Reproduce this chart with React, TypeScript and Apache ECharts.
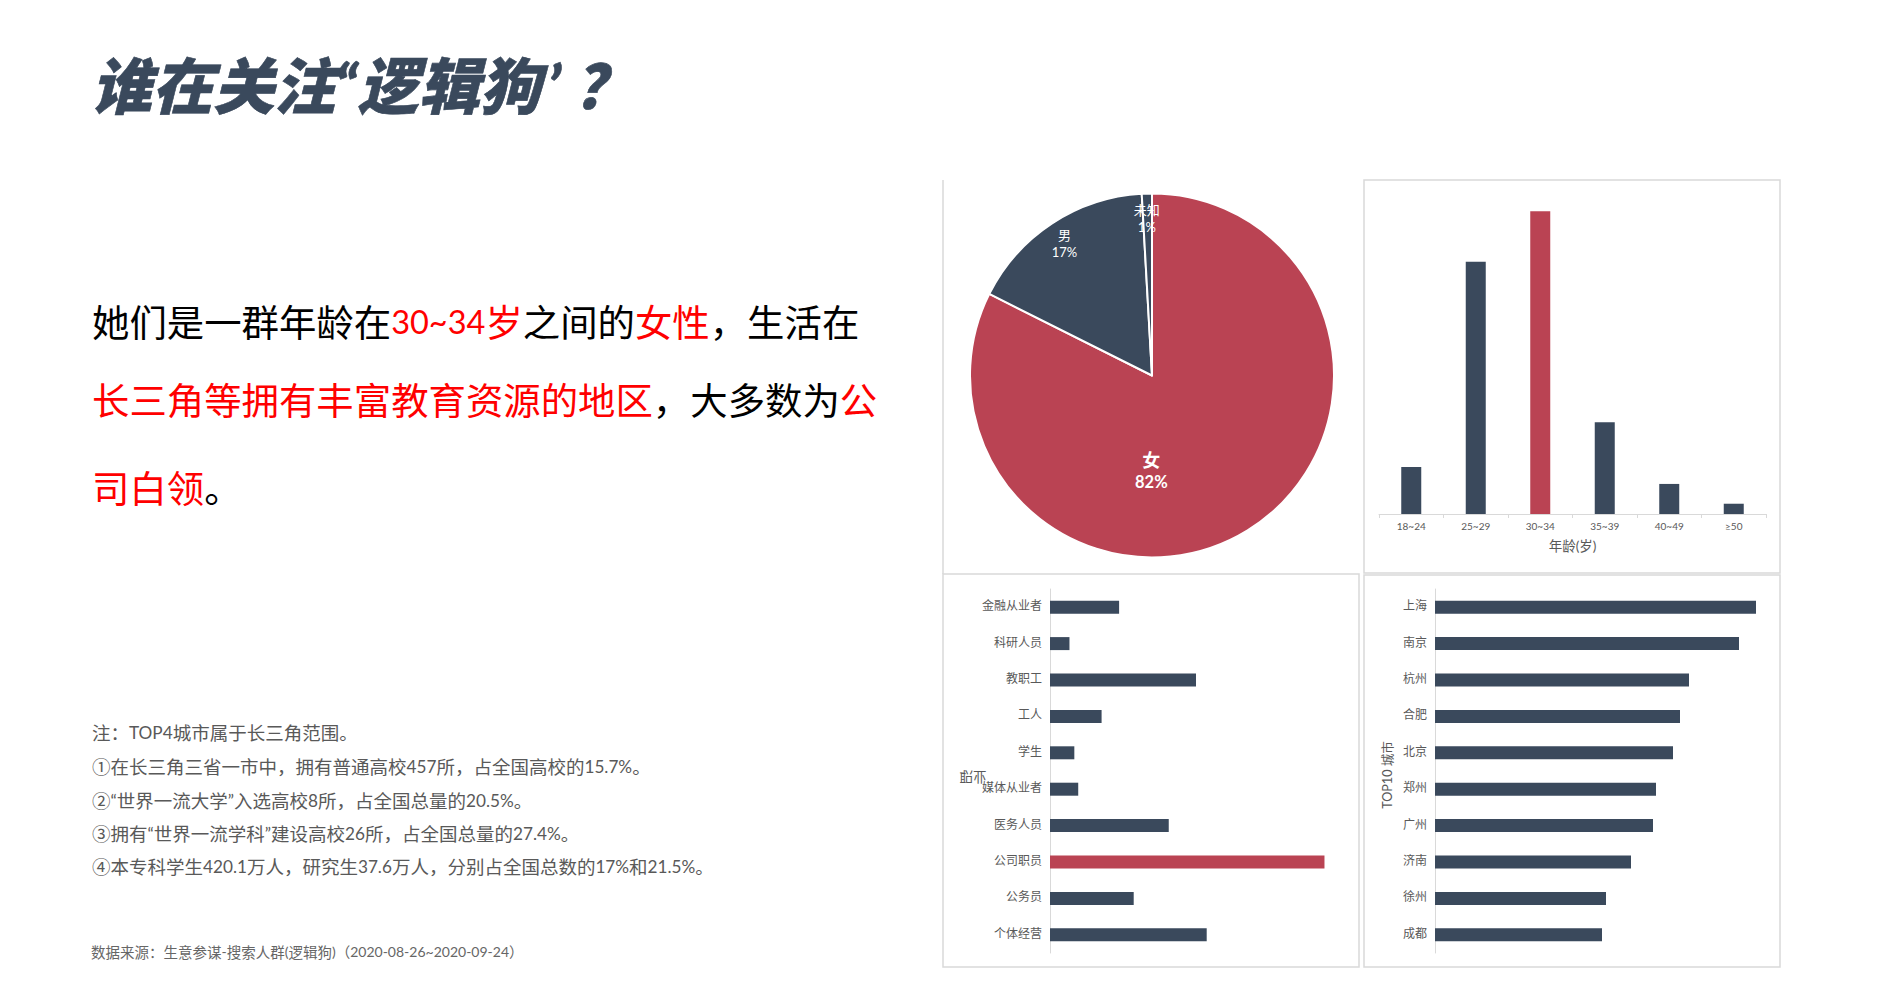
import React, { useEffect, useRef } from "react";
import * as echarts from "echarts";

const FONT = 'Lato, "Noto Sans CJK SC", sans-serif';
const CJK = '"Noto Sans CJK SC", sans-serif';
const NAVY = "#3A495C";
const ROSE = "#BA4353";
const GREY = "#595959";
const LINE = "#D9D9D9";

const genderNames = ["女", "男", "未知"];
const genderValues = [82.4, 16.7, 0.9];
const genderLabels = ["82%", "17%", "1%"];

const ageCategories = ["18~24", "25~29", "30~34", "35~39", "40~49", "≥50"];
const ageValues = [6.4, 34.4, 41.3, 12.5, 4.1, 1.4];

const jobCategories = ["金融从业者", "科研人员", "教职工", "工人", "学生", "媒体从业者", "医务人员", "公司职员", "公务员", "个体经营"];
const jobValues = [7.1, 2.0, 15.0, 5.3, 2.5, 2.9, 12.2, 28.2, 8.6, 16.1];

const cityCategories = ["上海", "南京", "杭州", "合肥", "北京", "郑州", "广州", "济南", "徐州", "成都"];
const cityValues = [321, 304, 254, 245, 238, 221, 218, 196, 171, 167];

const titleText = "谁在关注“逻辑狗\u2009’ ？";
const bodyLines = [
  "{k|她们是一群年龄在}{n|30~34}{r|岁}{k|之间的}{r|女性}{k|，生活在}",
  "{r|长三角等拥有丰富教育资源的地区}{k|，大多数为}{r|公}",
  "{r|司白领}{k|。}",
];
const noteLines = [
  "注：TOP4城市属于长三角范围。",
  "①在长三角三省一市中，拥有普通高校457所，占全国高校的15.7%。",
  "②“世界一流大学”入选高校8所，占全国总量的20.5%。",
  "③拥有“世界一流学科”建设高校26所，占全国总量的27.4%。",
  "④本专科学生420.1万人，研究生37.6万人，分别占全国总数的17%和21.5%。",
];
const sourceText = "数据来源：生意参谋-搜索人群(逻辑狗)（2020-08-26~2020-09-24）";

// Wraps Latin runs and CJK runs in separate rich-text tokens, so digits can be set smaller.
const mixed = (text: string) =>
  (text.match(/[\x20-\x7e\u2018-\u201d]+|[^\x20-\x7e\u2018-\u201d]+/g) || [])
    .map((run) => (/^[\x20-\x7e\u2018-\u201d]/.test(run) ? `{n|${run}}` : `{c|${run}}`))
    .join("");

const highlight = (cats: string[], vals: number[], hot: string) =>
  vals.map((value, i) => ({ value, itemStyle: { color: cats[i] === hot ? ROSE : NAVY } }));

const hBarAxis = (cats: string[], index: number) => ({
  type: "category",
  gridIndex: index,
  data: cats,
  inverse: true,
  axisLine: { lineStyle: { color: LINE } },
  axisTick: { show: false },
  axisLabel: { color: GREY, fontSize: 12, fontFamily: CJK, margin: 8, lineHeight: 5, verticalAlign: "bottom" },
});

const bodyY = [321, 399, 487];
const noteY = [732, 766, 800, 833, 866];

const richText = (text: string, x: number, y: number, fill: string, cjkSize: number, latinSize: number) => ({
  type: "text",
  x,
  y,
  style: {
    text: mixed(text),
    verticalAlign: "middle",
    rich: {
      c: { fill, fontSize: cjkSize, fontFamily: CJK },
      n: { fill, fontSize: latinSize, fontFamily: "Lato" },
    },
  },
});

const option: any = {
  animation: false,
  backgroundColor: "#fff",
  textStyle: { fontFamily: FONT },
  grid: [
    { left: 1379, top: 184, width: 387, height: 330 },
    { left: 1050, top: 589, width: 292, height: 364 },
    { left: 1435, top: 589, width: 335, height: 364 },
  ],
  xAxis: [
    {
      type: "category",
      gridIndex: 0,
      data: ageCategories,
      name: "年龄(岁)",
      nameLocation: "middle",
      nameGap: 25,
      nameTextStyle: { color: GREY, fontSize: 13.5, fontFamily: FONT },
      axisLine: { lineStyle: { color: LINE } },
      axisTick: { show: true, length: 4, lineStyle: { color: LINE } },
      axisLabel: { color: GREY, fontSize: 10, fontFamily: FONT, margin: 7, interval: 0 },
    },
    { type: "value", gridIndex: 1, min: 0, max: 30, show: false },
    { type: "value", gridIndex: 2, min: 0, max: 335, show: false },
  ],
  yAxis: [
    { type: "value", gridIndex: 0, min: 0, max: 45, show: false },
    hBarAxis(jobCategories, 1),
    hBarAxis(cityCategories, 2),
  ],
  series: [
    {
      type: "pie",
      center: [1152, 375.5],
      radius: [0, 182],
      startAngle: 90,
      clockwise: true,
      avoidLabelOverlap: false,
      minShowLabelAngle: 0,
      labelLine: { show: false },
      itemStyle: { borderColor: "#fff", borderWidth: 2 },
      data: genderNames.map((name, i) => ({
        name,
        value: genderValues[i],
        itemStyle: { color: i === 0 ? ROSE : NAVY },
        label: {
          show: true,
          position: "inside",
          offset: [[-50, 15], [-36, -54], [-2.5, -64]][i],
          formatter: `{${i === 0 ? "big" : "small"}|${name}}\n{${i === 0 ? "bigPct" : "smallPct"}|${genderLabels[i]}}`,
          rich: {
            big: { color: "#fff", fontSize: 18, fontWeight: "bold", fontFamily: CJK, lineHeight: 24, align: "center" },
            bigPct: { color: "#fff", fontSize: 16.5, fontWeight: "bold", fontFamily: FONT, lineHeight: 22, align: "center" },
            small: { color: "#fff", fontSize: 13, fontFamily: CJK, lineHeight: 18, align: "center" },
            smallPct: { color: "#fff", fontSize: 13, fontFamily: FONT, lineHeight: 17, align: "center" },
          },
        },
      })),
    },
    { type: "bar", xAxisIndex: 0, yAxisIndex: 0, barWidth: 20, data: highlight(ageCategories, ageValues, "30~34") },
    { type: "bar", xAxisIndex: 1, yAxisIndex: 1, barWidth: 13, data: highlight(jobCategories, jobValues, "公司职员") },
    { type: "bar", xAxisIndex: 2, yAxisIndex: 2, barWidth: 13, data: highlight(cityCategories, cityValues, "") },
  ],
  graphic: [
    { type: "line", z: 0, shape: { x1: 943, y1: 180, x2: 943, y2: 574 }, style: { stroke: LINE, lineWidth: 1.5 } },
    { type: "rect", z: 0, shape: { x: 1364, y: 180, width: 416, height: 393 }, style: { fill: "none", stroke: LINE, lineWidth: 1.5 } },
    { type: "rect", z: 0, shape: { x: 943, y: 574, width: 416, height: 393 }, style: { fill: "none", stroke: LINE, lineWidth: 1.5 } },
    { type: "rect", z: 0, shape: { x: 1364, y: 575, width: 416, height: 392 }, style: { fill: "none", stroke: LINE, lineWidth: 1.5 } },
    {
      type: "text",
      x: 973,
      y: 778,
      scaleY: -1,
      style: { text: "职业", fill: GREY, font: `13.5px ${CJK}`, align: "center", verticalAlign: "middle" },
    },
    {
      type: "text",
      x: 1387,
      y: 775,
      rotation: Math.PI / 2,
      style: { text: "TOP10 城市", fill: GREY, font: `12.6px ${FONT}`, align: "center", verticalAlign: "middle" },
    },
    {
      type: "text",
      x: 91,
      y: 85,
      style: {
        text: titleText,
        fill: NAVY,
        stroke: NAVY,
        lineWidth: 0.6,
        font: `italic 900 61px ${FONT}`,
        verticalAlign: "middle",
      },
    },
    ...bodyLines.map((text, i) => ({
      type: "text",
      x: 92,
      y: bodyY[i],
      style: {
        text,
        verticalAlign: "middle",
        rich: {
          k: { fill: "#000", fontSize: 37.4, fontFamily: CJK },
          r: { fill: "#FF0000", fontSize: 37.4, fontFamily: CJK },
          n: { fill: "#FF0000", fontSize: 32.5, fontFamily: "Lato" },
        },
      },
    })),
    ...noteLines.map((text, i) => richText(text, 92, noteY[i], GREY, 18.5, 17.2)),
    richText(sourceText, 91, 951, "#666", 14.5, 14),
  ],
};

export default function App() {
  const ref = useRef<HTMLDivElement>(null);
  useEffect(() => {
    document.body.style.margin = "0";
    const chart = echarts.init(ref.current!, undefined, { renderer: "svg" });
    chart.setOption(option);
    return () => chart.dispose();
  }, []);
  return <div ref={ref} style={{ position: "absolute", left: 0, top: 0, width: 1889, height: 1007 }} />;
}
